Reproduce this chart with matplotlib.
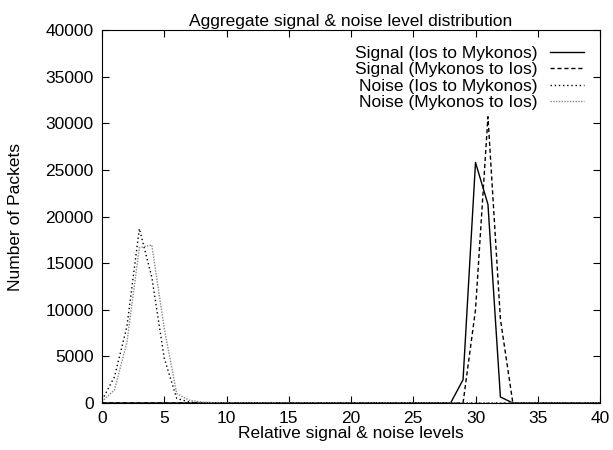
import matplotlib
matplotlib.use('Agg')
import matplotlib.pyplot as plt
import numpy as np

plt.rcParams['font.family'] = ['Liberation Sans', 'DejaVu Sans']

# relative level 0..40
levels = list(range(41))

# packet counts (zeros beyond the peaks)
sig_ios_myk = [0] * 28 + [0, 2500, 25800, 21300, 650, 0] + [0] * 7
sig_myk_ios = [0] * 28 + [0, 0, 10000, 30700, 9000, 0] + [0] * 7
noise_ios_myk = [300, 2800, 8200, 18700, 13500, 4800, 500, 100, 20] + [0] * 32
noise_myk_ios = [150, 1400, 6500, 16650, 16950, 8000, 1000, 300, 100, 30] + [0] * 31

fs = 12.5

fig = plt.figure(figsize=(6.13, 4.5), dpi=100)
ax = fig.add_axes([0.1664, 0.1044, 0.8124, 0.8289])

ax.plot(levels, sig_ios_myk, color='black', lw=1.0, label='Signal (Ios to Mykonos)')
ax.plot(levels, sig_myk_ios, color='black', lw=1.0, linestyle=(0, (3, 2)),
        label='Signal (Mykonos to Ios)')
ax.plot(levels, noise_ios_myk, color='black', lw=1.0, linestyle=(0, (1, 2)),
        label='Noise (Ios to Mykonos)')
ax.plot(levels, noise_myk_ios, color='#888888', lw=1.0, linestyle=(0, (1, 1)),
        label='Noise (Mykonos to Ios)')

ax.set_xlim(0, 40)
ax.set_ylim(0, 40000)
ax.set_xticks(np.arange(0, 41, 5))
ax.set_yticks(np.arange(0, 40001, 5000))
ax.tick_params(direction='in', top=True, right=True, labelsize=fs, length=5, pad=6)
ax.tick_params(axis='x', pad=6)

ax.set_title('Aggregate signal & noise level distribution', fontsize=fs, pad=3)
ax.set_xlabel('Relative signal & noise levels', fontsize=fs, labelpad=0)
ax.set_ylabel('Number of Packets', fontsize=fs, labelpad=16)

ax.legend(loc='upper right', frameon=False, markerfirst=False, fontsize=fs,
          handlelength=2.0, labelspacing=0.08, borderaxespad=0.5, handletextpad=0.7)

fig.savefig('out.png', dpi=100)
